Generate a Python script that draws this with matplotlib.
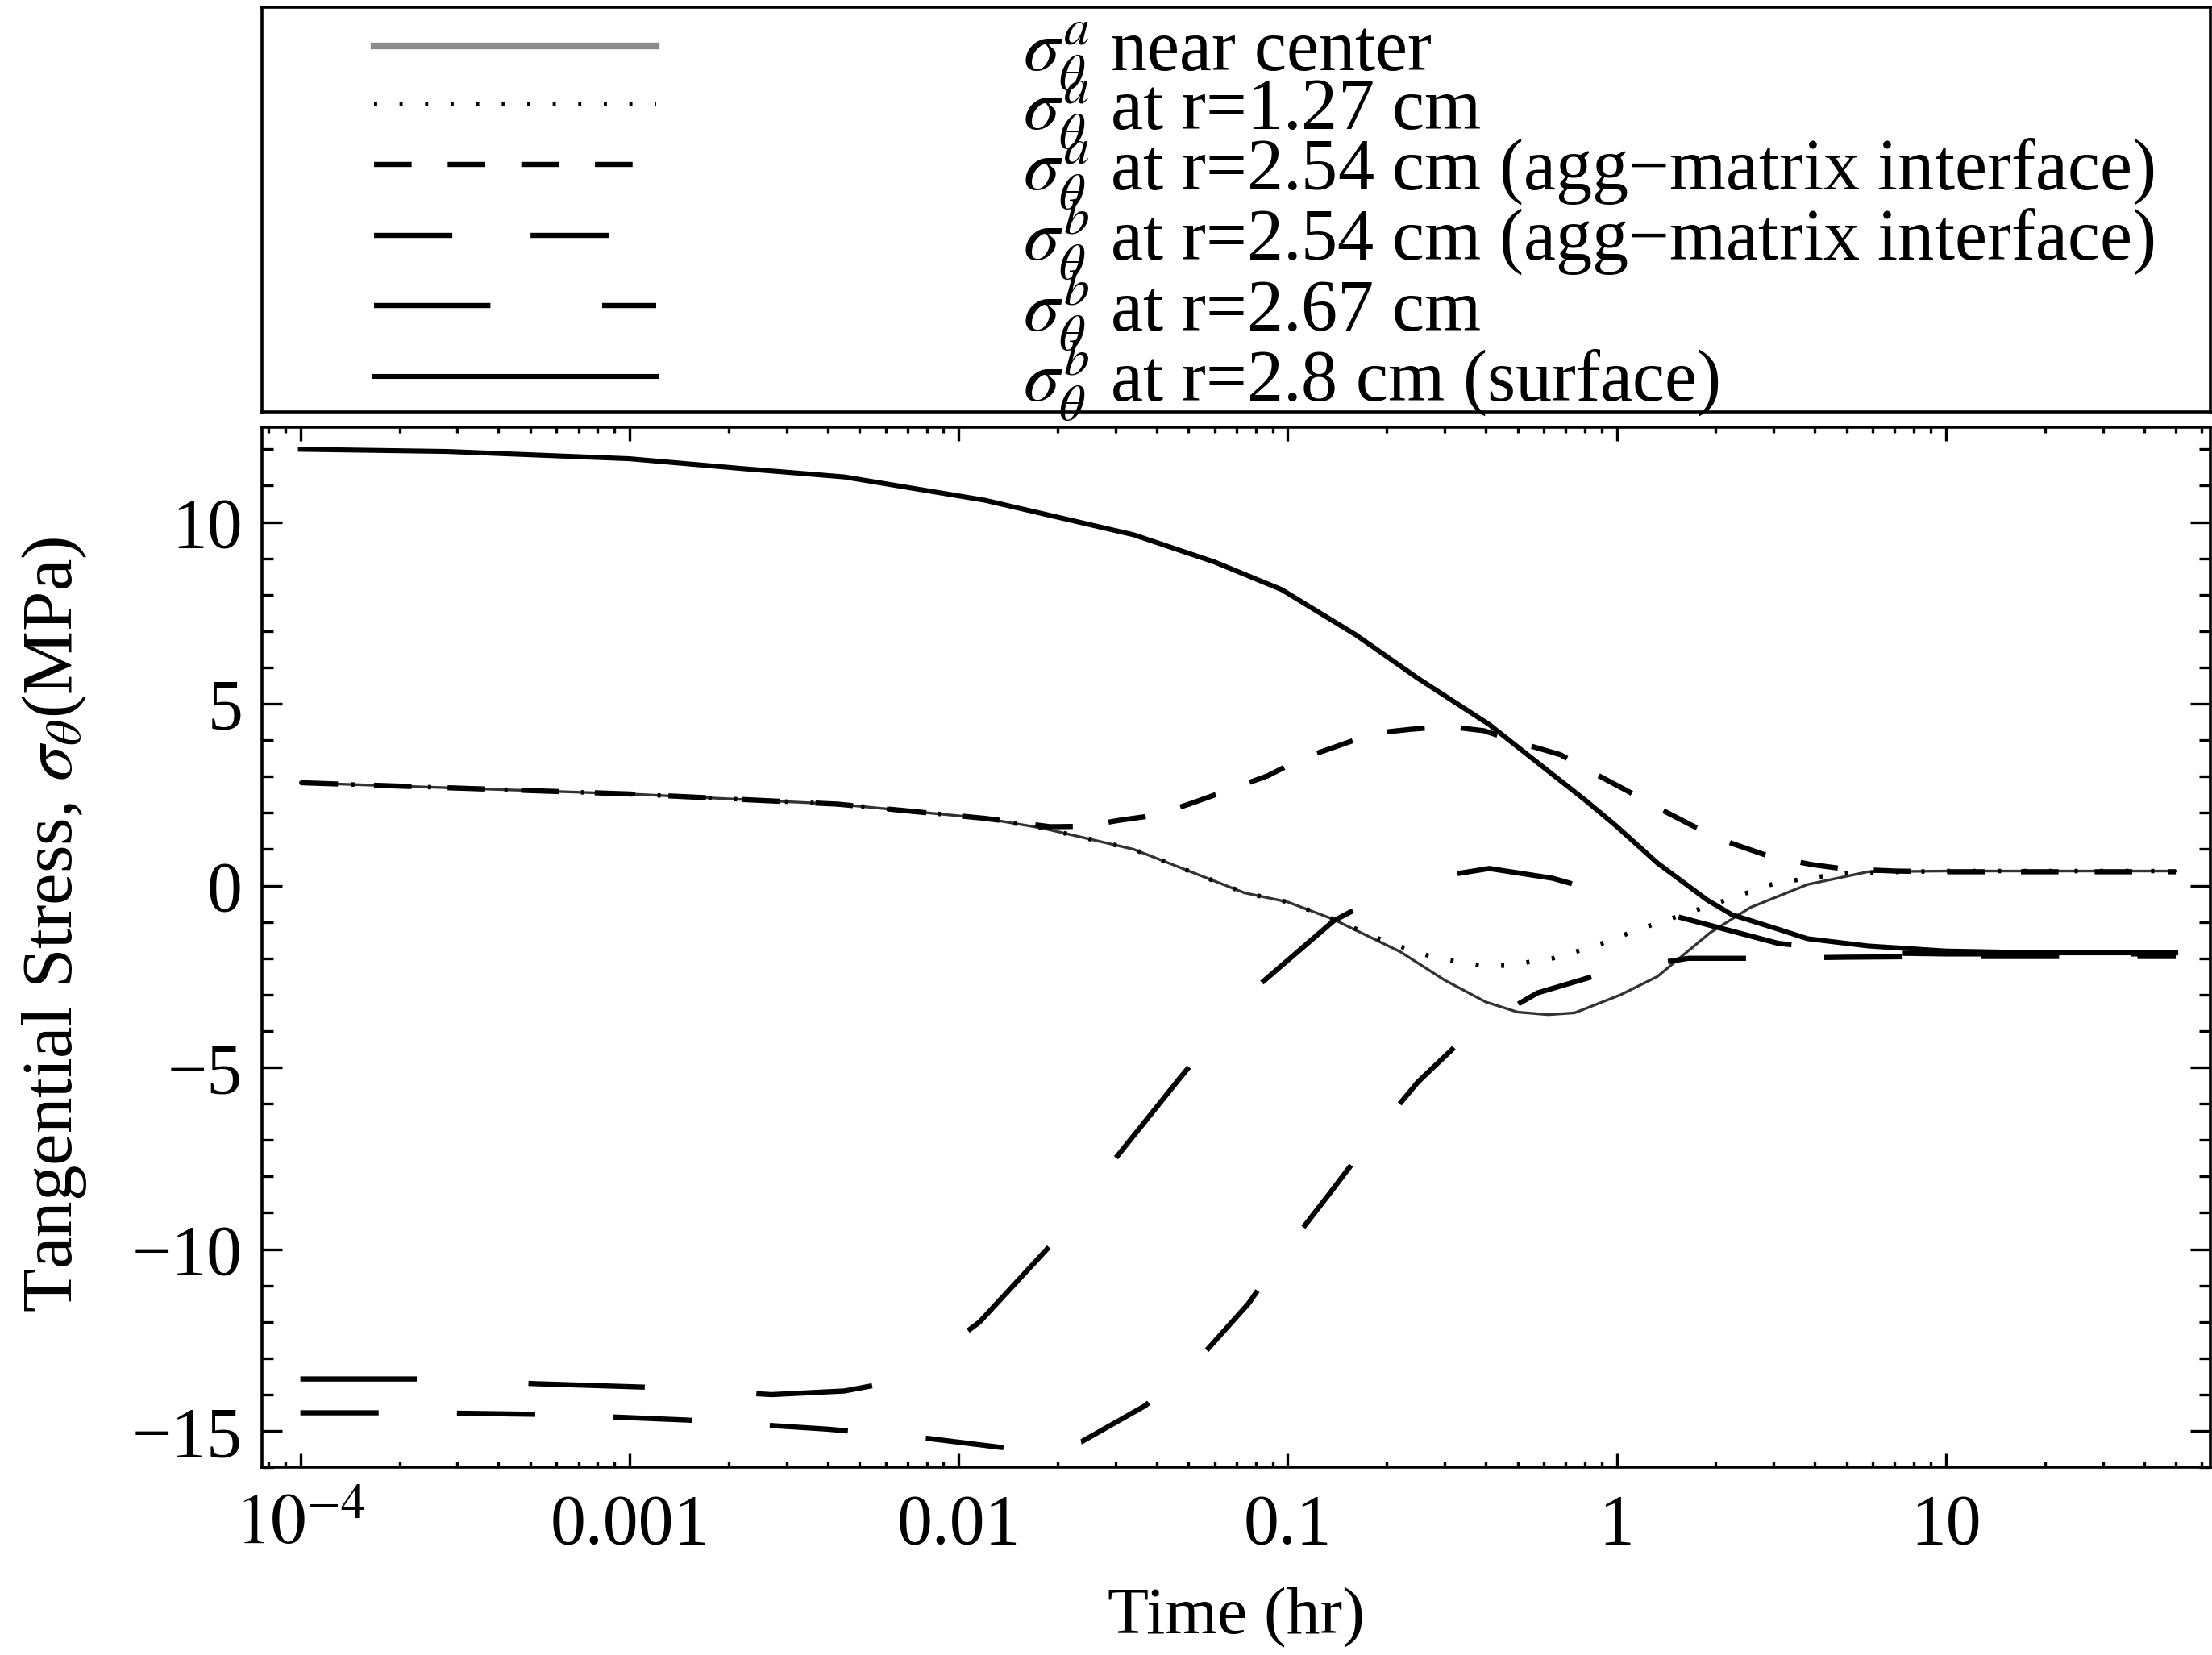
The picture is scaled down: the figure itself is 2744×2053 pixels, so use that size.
import matplotlib
matplotlib.use("Agg")
import matplotlib.pyplot as plt
from matplotlib.ticker import LogLocator, MultipleLocator, NullFormatter

plt.rcParams["font.family"] = "serif"
plt.rcParams["font.serif"] = ["Liberation Serif", "DejaVu Serif"]
plt.rcParams["mathtext.fontset"] = "stix"

# aggregate, near center (thin solid)
t_center = [1e-4, 1e-3, 4.3e-3, 0.012, 0.018, 0.034, 0.074, 0.1, 0.138, 0.22, 0.3, 0.4,
            0.5, 0.62, 0.745, 1.03, 1.33, 1.92, 2.55, 3.8, 5.8, 10, 50]
s_center = [2.83, 2.52, 2.24, 1.85, 1.58, 1.0, -0.2, -0.45, -0.93, -1.82, -2.6, -3.2,
            -3.48, -3.55, -3.5, -3.0, -2.5, -1.3, -0.6, 0.03, 0.38, 0.4, 0.4]

# aggregate, r = 1.27 cm (dotted)
t_r127 = [1e-4, 1e-3, 4.3e-3, 0.012, 0.018, 0.034, 0.074, 0.1, 0.138, 0.2, 0.283, 0.39,
          0.46, 0.64, 0.86, 1.17, 1.6, 2.16, 2.95, 3.5, 5, 10, 50]
s_r127 = [2.83, 2.52, 2.24, 1.85, 1.58, 1.0, -0.2, -0.45, -0.93, -1.55, -2.0, -2.2,
          -2.2, -2.0, -1.66, -1.2, -0.79, -0.39, 0.03, 0.15, 0.35, 0.4, 0.4]

# aggregate, r = 2.54 cm (short dashes)
t_a254 = [1e-4, 1e-3, 4.3e-3, 0.012, 0.019, 0.024, 0.031, 0.040, 0.052, 0.068, 0.087,
          0.11, 0.142, 0.183, 0.237, 0.306, 0.395, 0.52, 0.675, 0.85, 1.08, 1.36, 1.74,
          2.24, 2.9, 3.9, 4.9, 7, 10, 50]
s_a254 = [2.83, 2.52, 2.24, 1.85, 1.62, 1.63, 1.8, 1.94, 2.29, 2.67, 3.02,
          3.49, 3.84, 4.19, 4.3, 4.38, 4.26, 3.9, 3.6, 3.1, 2.6, 2.1, 1.6,
          1.16, 0.81, 0.58, 0.46, 0.4, 0.38, 0.38]

# matrix, r = 2.54 cm (medium dashes)
t_b254 = [1e-4, 2.5e-4, 6e-4, 1.5e-3, 4e-3, 8e-3, 0.0134, 0.018, 0.0236, 0.037, 0.054,
          0.076, 0.1, 0.136, 0.185, 0.249, 0.362, 0.575, 0.98, 1.65, 2.9, 5, 10, 50]
s_b254 = [-14.5, -14.5, -14.55, -14.7, -14.95, -15.2, -15.45, -15.5, -15.3, -14.3, -13.0,
          -11.5, -9.96, -8.4, -6.8, -5.4, -4.0, -2.95, -2.33, -2.0, -2.0, -1.97, -1.95, -1.95]

# matrix, r = 2.67 cm (long dashes)
t_b267 = [1e-4, 2.3e-4, 5.2e-4, 1.16e-3, 2.7e-3, 4.5e-3, 5.9e-3, 8e-3, 0.0116, 0.019,
          0.030, 0.047, 0.078, 0.138, 0.2, 0.28, 0.41, 0.64, 1.0, 1.37, 3.1, 6, 10, 50]
s_b267 = [-13.57, -13.57, -13.7, -13.8, -14.0, -13.9, -13.7, -13.1, -12.0, -9.9,
          -7.5, -5.3, -2.9, -0.97, -0.2, 0.23, 0.47, 0.2, -0.3, -0.74, -1.59, -1.85, -1.88, -1.88]

# matrix, r = 2.8 cm surface (thick solid)
t_surf = [1e-4, 2.8e-4, 1e-3, 2.2e-3, 4.5e-3, 0.012, 0.034, 0.06, 0.096, 0.161, 0.249,
          0.41, 0.6, 0.8, 1.0, 1.33, 1.88, 2.24, 3.0, 3.8, 5.8, 10, 20, 50]
s_surf = [12.0, 11.94, 11.74, 11.47, 11.24, 10.6, 9.65, 8.9, 8.14, 6.9, 5.7,
          4.43, 3.25, 2.36, 1.63, 0.62, -0.39, -0.8, -1.16, -1.46, -1.66, -1.8, -1.85, -1.85]

labels = [
    r"$\sigma_\theta^a$ near center",
    r"$\sigma_\theta^a$ at r=1.27 cm",
    r"$\sigma_\theta^a$ at r=2.54 cm (agg−matrix interface)",
    r"$\sigma_\theta^b$ at r=2.54 cm (agg−matrix interface)",
    r"$\sigma_\theta^b$ at r=2.67 cm",
    r"$\sigma_\theta^b$ at r=2.8 cm (surface)",
]

x_ticks = [1e-4, 1e-3, 1e-2, 1e-1, 1, 10]
x_tick_labels = [r"$10^{-4}$", "0.001", "0.01", "0.1", "1", "10"]
y_ticks = [-15, -10, -5, 0, 5, 10]
y_tick_labels = ["−15", "−10", "−5", "0", "5", "10"]

fig = plt.figure(figsize=(13.72, 10.265), dpi=200)
ax = fig.add_axes([0.1186, 0.1134, 0.8805, 0.6283])

ax.plot(t_center, s_center, color="#333333", lw=1.2, label=labels[0])
ax.plot(t_r127, s_r127, color="black", lw=2.0, dashes=(0.7, 5), label=labels[1])
ax.plot(t_a254, s_a254, color="black", lw=2.3, dashes=(7.3, 7.0), label=labels[2])
ax.plot(t_b254, s_b254, color="black", lw=2.3, dashes=(15.2, 15.2), label=labels[3])
ax.plot(t_b267, s_b267, color="black", lw=2.3, dashes=(22.6, 21.7), label=labels[4])
ax.plot(t_surf, s_surf, color="black", lw=2.2, label=labels[5])

ax.set_xscale("log")
ax.set_xlim(10 ** -4.1156, 10 ** 1.803)
ax.set_ylim(-16.0, 12.6)
ax.set_xticks(x_ticks, x_tick_labels)
ax.xaxis.set_minor_locator(LogLocator(base=10, subs=range(2, 10), numticks=20))
ax.xaxis.set_minor_formatter(NullFormatter())
ax.set_yticks(y_ticks, y_tick_labels)
ax.yaxis.set_minor_locator(MultipleLocator(1))

ax.tick_params(which="both", direction="in", top=True, right=True, width=1.2, labelsize=31.5)
ax.tick_params(axis="x", which="major", length=6, pad=34)
ax.tick_params(axis="x", which="minor", length=2.5)
ax.tick_params(axis="y", which="major", length=9, pad=8.8)
ax.tick_params(axis="y", which="minor", length=5)
plt.setp(ax.get_xticklabels(), va="baseline")
for sp in ax.spines.values():
    sp.set_linewidth(1.3)

ax.set_xlabel("Time (hr)", fontsize=30)
ax.xaxis.set_label_coords(0.5, -0.115)
ax.set_ylabel(r"Tangential Stress, $\sigma_\theta$(MPa)", fontsize=32)
ax.yaxis.set_label_coords(-0.089, 0.522)

# legend box above the plot
lax = fig.add_axes([0.1186, 0.751, 0.8805, 0.2447])
lax.set_xticks([])
lax.set_yticks([])
for sp in lax.spines.values():
    sp.set_linewidth(1.3)
handles, _ = ax.get_legend_handles_labels()
leg = lax.legend(handles, labels, loc="upper left", bbox_to_anchor=(0.0572, 0.968),
                 frameon=False, borderpad=0, borderaxespad=0, handlelength=3.88,
                 handletextpad=5.04, labelspacing=-0.2, fontsize=32.5)
leg.get_lines()[0].set_linewidth(3)
leg.get_lines()[0].set_color("#8c8c8c")

fig.savefig("out.png", dpi=200)
